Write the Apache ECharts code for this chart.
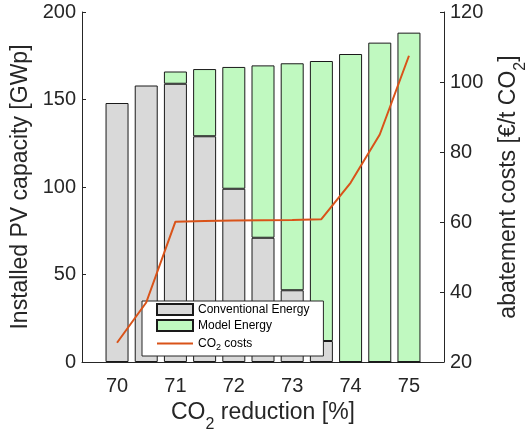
<!DOCTYPE html>
<html>
<head>
<meta charset="utf-8">
<script src="https://cdn.jsdelivr.net/npm/echarts@6/dist/echarts.min.js"></script>
<style>
  html, body { margin: 0; padding: 0; background: #fff; }
  #chart { width: 525px; height: 432px; }
</style>
</head>
<body>
<div id="chart"></div>
<script>
// CO2 reduction steps [%]
const reduction = [70, 70.5, 71, 71.5, 72, 72.5, 73, 73.5, 74, 74.5, 75];
// Installed PV capacity [GWp], split by source
const conventionalEnergy = [148, 158, 159, 129, 99, 71, 41, 12, 0, 0, 0];
const modelEnergy = [null, null, 7, 38.4, 69.6, 98.5, 129.7, 160, 176, 182.5, 188.2];
// Abatement costs [€/t CO2]
const co2Costs = [25.5, 37, 60.1, 60.3, 60.4, 60.5, 60.6, 60.8, 71.2, 85, 107.5];
// Tick labels
const xTicks = [70, 71, 72, 73, 74, 75];
const leftTicks = [0, 50, 100, 150, 200];
const rightTicks = [20, 40, 60, 80, 100, 120];

const FONT = 'Liberation Sans, Arial, sans-serif';
const INK = '#262626';

// bars: value first so the stack runs along the capacity axis
const barRows = (vals) => reduction.map((x, i) => [vals[i], x]);
const lineRows = (vals) => reduction.map((x, i) => [x, vals[i]]);

const chart = echarts.init(document.getElementById('chart'), null, { renderer: 'canvas' });

const titleRich = {
  t: { fontFamily: FONT, fontSize: 23, color: INK },
  s: { fontFamily: FONT, fontSize: 16, color: INK, padding: [24, 0, 0, 0] }
};

chart.setOption({
  animation: false,
  backgroundColor: '#fff',
  grid: { left: 82, right: 81, top: 12, bottom: 70, outerBoundsMode: 'none', containLabel: false },
  legend: {
    left: 142,
    top: 301,
    orient: 'vertical',
    padding: [2, 14, 4, 14],
    itemGap: 3,
    itemWidth: 36,
    itemHeight: 11,
    backgroundColor: '#fff',
    borderColor: INK,
    borderWidth: 1,
    borderRadius: 0,
    data: [
      { name: 'Conventional Energy', icon: 'rect' },
      { name: 'Model Energy', icon: 'rect' },
      { name: 'CO2 costs', itemStyle: { opacity: 0 } }
    ],
    formatter: (name) => name === 'CO2 costs' ? '{t|CO}{s|2}{t| costs}' : '{t|' + name + '}',
    textStyle: {
      fontFamily: FONT,
      fontSize: 12,
      lineHeight: 13,
      color: '#000',
      rich: {
        t: { fontFamily: FONT, fontSize: 12, lineHeight: 13, color: '#000' },
        s: { fontFamily: FONT, fontSize: 9, lineHeight: 13, color: '#000', padding: [8, 0, 0, 0] }
      }
    }
  },
  xAxis: {
    type: 'value',
    min: 69.4,
    max: 75.6,
    name: '{t|CO}{s|2}{t| reduction [%]}',
    nameLocation: 'middle',
    nameGap: 31,
    nameTextStyle: { rich: titleRich },
    splitLine: { show: false },
    axisLine: { show: true, lineStyle: { color: INK, width: 1 } },
    axisTick: { show: true, inside: true, length: 4, customValues: xTicks, lineStyle: { color: INK } },
    axisLabel: { customValues: xTicks, fontFamily: FONT, fontSize: 20, color: INK, margin: 14 }
  },
  yAxis: [
    {
      type: 'value',
      min: 0,
      max: 200,
      interval: 50,
      position: 'left',
      name: 'Installed PV capacity [GWp]',
      nameLocation: 'middle',
      nameGap: 48,
      nameTextStyle: { fontFamily: FONT, fontSize: 23, color: INK },
      splitLine: { show: false },
      axisLine: { show: true, lineStyle: { color: INK, width: 1 } },
      axisTick: { show: true, inside: true, length: 4, customValues: leftTicks, lineStyle: { color: INK } },
      axisLabel: { customValues: leftTicks, fontFamily: FONT, fontSize: 20, color: INK, margin: 6 }
    },
    {
      type: 'value',
      min: 20,
      max: 120,
      interval: 20,
      position: 'right',
      name: '{t|abatement costs [€/t CO}{s|2}{t|]}',
      nameLocation: 'middle',
      nameGap: 45,
      nameTextStyle: { rich: titleRich },
      splitLine: { show: false },
      axisLine: { show: true, lineStyle: { color: INK, width: 1 } },
      axisTick: { show: true, inside: true, length: 4, customValues: rightTicks, lineStyle: { color: INK } },
      axisLabel: { customValues: rightTicks, fontFamily: FONT, fontSize: 20, color: INK, margin: 6 }
    }
  ],
  series: [
    {
      name: 'Conventional Energy',
      type: 'bar',
      stack: 'pv',
      barWidth: 23,
      yAxisIndex: 0,
      encode: { x: 1, y: 0 },
      data: barRows(conventionalEnergy),
      itemStyle: { color: '#d9d9d9', borderColor: '#1a1a1a', borderWidth: 1 }
    },
    {
      name: 'Model Energy',
      type: 'bar',
      stack: 'pv',
      barWidth: 23,
      yAxisIndex: 0,
      encode: { x: 1, y: 0 },
      data: barRows(modelEnergy),
      itemStyle: { color: '#c0f9c0', borderColor: '#1a1a1a', borderWidth: 1 }
    },
    {
      name: 'CO2 costs',
      type: 'line',
      yAxisIndex: 1,
      symbol: 'none',
      z: 5,
      data: lineRows(co2Costs),
      lineStyle: { color: '#d95319', width: 2 },
      itemStyle: { color: '#d95319' }
    }
  ]
});
</script>
</body>
</html>
